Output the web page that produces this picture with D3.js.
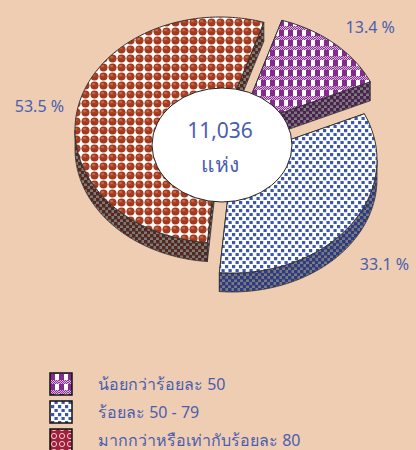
<!DOCTYPE html>
<html>
<head>
<meta charset="utf-8">
<script src="https://cdn.jsdelivr.net/npm/d3@7"></script>
<style>
  body { margin: 0; background: #EECDB3; }
  svg { display: block; }
</style>
</head>
<body>
<div id="chart-area"></div>
<script>
// data
const categories = ["น้อยกว่าร้อยละ 50", "ร้อยละ 50 - 79", "มากกว่าหรือเท่ากับร้อยละ 80"]
const values = [13.4, 33.1, 53.5]
const totalLabel = "11,036"
const unitLabel = "แห่ง"

const svgWidth = 416
const svgHeight = 450
const rx = 145, ry = 113, depth = 19
// slice centres after the explode, purple / blue / red
const centres = [[238, 128], [232, 160], [220, 130]]
// label distance along the slice middle, x and y factors
const labelFactor = [[1.37, 1.19], [1.29, 1.59], [1.27, 1.08]]
const textColor = "#4A5EAE"
const font = "Tahoma, 'Noto Sans', sans-serif"

const svg = d3.select("#chart-area")
  .append("svg")
  .attr("width", svgWidth)
  .attr("height", svgHeight)

svg.append("rect").attr("width", svgWidth).attr("height", svgHeight).attr("fill", "#EECDB3")

const defs = svg.append("defs")

// purple check
const pP = defs.append("pattern").attr("id", "pPurple").attr("patternUnits", "userSpaceOnUse")
  .attr("width", 9).attr("height", 10)
pP.append("rect").attr("width", 9).attr("height", 10).attr("fill", "#fff")
pP.append("rect").attr("width", 5).attr("height", 6).attr("fill", "#832C8E")
pP.append("rect").attr("y", 6).attr("width", 9).attr("height", 4).attr("fill", "#D9B0DA")
for (let i = 0; i < 9; i += 2) {
  pP.append("rect").attr("x", i).attr("y", 6).attr("width", 1).attr("height", 1).attr("fill", "#8B3596")
  pP.append("rect").attr("x", i + 1).attr("y", 7).attr("width", 1).attr("height", 1).attr("fill", "#8B3596")
  pP.append("rect").attr("x", i).attr("y", 8).attr("width", 1).attr("height", 1).attr("fill", "#8B3596")
  pP.append("rect").attr("x", i + 1).attr("y", 9).attr("width", 1).attr("height", 1).attr("fill", "#8B3596")
}

// blue dots
const pB = defs.append("pattern").attr("id", "pBlue").attr("patternUnits", "userSpaceOnUse")
  .attr("width", 7).attr("height", 8)
pB.append("rect").attr("width", 7).attr("height", 8).attr("fill", "#fff")
pB.append("rect").attr("x", 1).attr("y", 1).attr("width", 3.2).attr("height", 3.2).attr("fill", "#3B55B3")
pB.append("rect").attr("x", 4.5).attr("y", 5).attr("width", 3.2).attr("height", 3.2).attr("fill", "#3B55B3")
pB.append("rect").attr("x", -2.5).attr("y", 5).attr("width", 3.2).attr("height", 3.2).attr("fill", "#3B55B3")

// red balls
const pR = defs.append("pattern").attr("id", "pRed").attr("patternUnits", "userSpaceOnUse")
  .attr("width", 9).attr("height", 9)
pR.append("rect").attr("width", 9).attr("height", 9).attr("fill", "#fff")
pR.append("circle").attr("cx", 4.5).attr("cy", 4.5).attr("r", 4).attr("fill", "#A33A1E")
pR.append("ellipse").attr("cx", 3.6).attr("cy", 3).attr("rx", 1.8).attr("ry", 1).attr("fill", "#C46A50")
pR.append("rect").attr("x", 0).attr("y", 4).attr("width", 9).attr("height", 1).attr("fill", "#B5553B").attr("opacity", 0.35)

// legend red (crimson)
const pL = defs.append("pattern").attr("id", "pRedLeg").attr("patternUnits", "userSpaceOnUse")
  .attr("width", 8).attr("height", 8)
pL.append("rect").attr("width", 8).attr("height", 8).attr("fill", "#A0213C")
pL.append("circle").attr("cx", 4).attr("cy", 4).attr("r", 2.6).attr("fill", "none").attr("stroke", "#F2C9CF").attr("stroke-width", 1)

// side patterns, grey with dark squares
function sidePattern(id, dark) {
  const p = defs.append("pattern").attr("id", id).attr("patternUnits", "userSpaceOnUse")
    .attr("width", 6).attr("height", 6)
  p.append("rect").attr("width", 6).attr("height", 6).attr("fill", "#7A7A7A")
  p.append("rect").attr("x", 0).attr("y", 0).attr("width", 3.5).attr("height", 3.5).attr("fill", dark)
  p.append("rect").attr("x", 3).attr("y", 3).attr("width", 3.5).attr("height", 3.5).attr("fill", dark)
}
sidePattern("sPurple", "#4C2152")
sidePattern("sBlue", "#2E3B82")
sidePattern("sRed", "#55281E")

const topFill = ["url(#pPurple)", "url(#pBlue)", "url(#pRed)"]
const sideFill = ["url(#sPurple)", "url(#sBlue)", "url(#sRed)"]
const legendFill = ["url(#pPurple)", "url(#pBlue)", "url(#pRedLeg)"]

const pie = d3.pie().sort(null)
  .startAngle(17.6 * Math.PI / 180)
  .endAngle(17.6 * Math.PI / 180 + 2 * Math.PI)
const arcs = pie(values)

const pt = (c, a, dy = 0) => [c[0] + rx * Math.sin(a), c[1] - ry * Math.cos(a) + dy]
function arcPoints(c, a0, a1, dy = 0) {
  const n = Math.max(2, Math.ceil((a1 - a0) / 0.02))
  return d3.range(n + 1).map(i => pt(c, a0 + (a1 - a0) * i / n, dy))
}
const line = d3.line()

const sides = svg.append("g").attr("stroke", "#333").attr("stroke-width", 0.8).attr("stroke-linejoin", "round")
const tops = svg.append("g").attr("stroke", "#333").attr("stroke-width", 1).attr("stroke-linejoin", "round")

arcs.forEach((d, i) => {
  const c = centres[i]
  const a0 = d.startAngle, a1 = d.endAngle
  // radial faces
  ;[a0, a1].forEach(a => {
    const o = pt(c, a)
    sides.append("path")
      .attr("d", line([c, o, [o[0], o[1] + depth], [c[0], c[1] + depth]]) + "Z")
      .attr("fill", sideFill[i])
  })
  // outer wall on the front half
  const f0 = Math.max(a0, Math.PI / 2), f1 = Math.min(a1, 3 * Math.PI / 2)
  if (f1 > f0) {
    const upper = arcPoints(c, f0, f1)
    const lower = arcPoints(c, f0, f1, depth).reverse()
    sides.append("path").attr("d", line(upper.concat(lower)) + "Z").attr("fill", sideFill[i])
  }
  tops.append("path")
    .attr("d", line([c].concat(arcPoints(c, a0, a1))) + "Z")
    .attr("fill", topFill[i])
})

// centre hole
svg.append("ellipse")
  .attr("cx", 222).attr("cy", 145).attr("rx", 70).attr("ry", 57)
  .attr("fill", "#fff").attr("stroke", "#222").attr("stroke-width", 1)

svg.append("text").attr("x", 220).attr("y", 138).attr("text-anchor", "middle")
  .attr("font-family", font).attr("font-size", 21)
  .attr("fill", textColor).text(totalLabel)
svg.append("text").attr("x", 220).attr("y", 172).attr("text-anchor", "middle")
  .attr("font-family", font).attr("font-size", 21)
  .attr("fill", textColor).text(unitLabel)

// percentage labels
svg.append("g")
  .attr("font-family", font)
  .attr("font-size", 16)
  .attr("fill", textColor)
  .attr("text-anchor", "middle")
  .selectAll("text")
  .data(arcs)
  .join("text")
  .attr("x", (d, i) => centres[i][0] + rx * labelFactor[i][0] * Math.sin((d.startAngle + d.endAngle) / 2))
  .attr("y", (d, i) => centres[i][1] - ry * labelFactor[i][1] * Math.cos((d.startAngle + d.endAngle) / 2))
  .attr("dy", "0.35em")
  .text(d => d.data.toFixed(1) + " %")

// legend
const legendY = d3.scalePoint().domain(categories).range([384, 440])
const legend = svg.append("g").selectAll("g")
  .data(categories)
  .join("g")
  .attr("transform", d => `translate(50,${legendY(d)})`)
legend.append("rect")
  .attr("x", 0).attr("y", -11).attr("width", 22).attr("height", 22)
  .attr("fill", (d, i) => legendFill[i])
  .attr("stroke", "#111").attr("stroke-width", 1.5)
legend.append("text")
  .attr("x", 48).attr("dy", "0.35em")
  .attr("font-family", font)
  .attr("font-size", 16)
  .attr("fill", textColor)
  .text(d => d)
</script>
</body>
</html>
